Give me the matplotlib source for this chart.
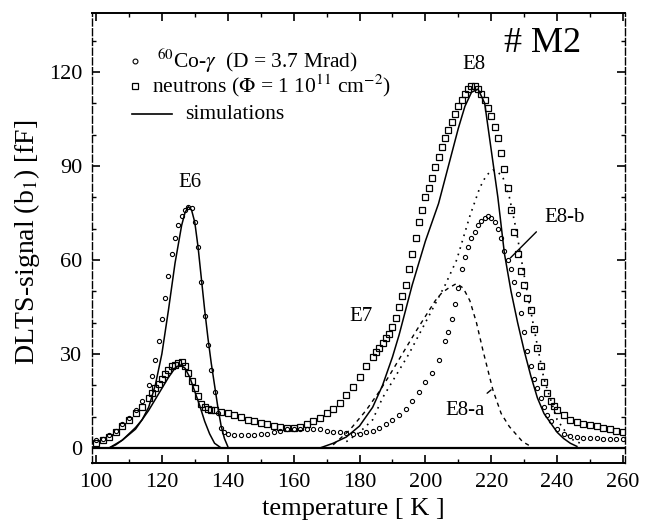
import matplotlib
matplotlib.use("Agg")
import matplotlib.pyplot as plt
from matplotlib.ticker import MultipleLocator

plt.rcParams['font.family'] = ['Liberation Serif', 'DejaVu Serif']
plt.rcParams['mathtext.fontset'] = 'stix'

# ---------------- data ----------------
# 60Co-gamma irradiated sample (circles)
co_T = [100, 102, 104, 106, 108, 110, 112, 114, 116, 117, 118, 119, 120, 121, 122, 123, 124, 125,
        126, 127, 128, 129, 130, 131, 132, 133, 134, 135, 136, 137, 138, 139, 140, 142, 144, 146,
        148, 150, 152, 154, 156, 158, 160, 162, 164, 166, 168, 170, 172, 174, 176, 178, 180, 182,
        184, 186, 188, 190, 192, 194, 196, 198, 200, 202, 204, 206, 207, 208, 209, 210, 211, 212,
        213, 214, 215, 216, 217, 218, 219, 220, 221, 222, 223, 224, 225, 226, 227, 228, 229, 230,
        231, 232, 233, 234, 235, 236, 237, 238, 240, 242, 244, 246, 248, 250, 252, 254, 256, 258, 260]
co_S = [2.5, 3, 4, 5.5, 7.5, 9.5, 12, 15, 20, 23, 28, 34, 41, 48, 55, 62, 67, 71,
        74, 76, 77, 76.5, 72, 64, 53, 42, 33, 25, 18, 11, 6.5, 5, 4.5, 4, 4, 4,
        4, 4.5, 4.5, 5, 5.5, 6, 6, 6, 6, 6, 6, 5.5, 5.2, 5, 4.8, 4.6, 4.5, 5,
        5.5, 6.5, 7.5, 9, 10.5, 12.5, 15, 18, 21, 24, 28, 34, 37, 41, 46, 51, 57, 61,
        64, 67, 69, 71, 72.5, 73.5, 74, 73.5, 72, 70, 67, 63, 60, 57, 53, 49, 43, 37,
        31, 26, 22, 19, 16, 13, 10.5, 8.5, 6, 4.5, 3.8, 3.5, 3.3, 3.2, 3.1, 3, 3, 3, 3]

# neutron irradiated sample (squares)
n_T = [100, 102, 104, 106, 108, 110, 112, 114, 116, 117, 118, 119, 120, 121, 122, 123, 124, 125,
       126, 127, 128, 129, 130, 131, 132, 133, 134, 135, 136, 138, 140, 142, 144, 146, 148, 150,
       152, 154, 156, 158, 160, 162, 164, 166, 168, 170, 172, 174, 176, 178, 180, 182, 184, 185,
       186, 187, 188, 189, 190, 191, 192, 193, 194, 195, 196, 197, 198, 199, 200, 201, 202, 203,
       204, 205, 206, 207, 208, 209, 210, 211, 212, 213, 214, 215, 216, 217, 218, 219, 220, 221,
       222, 223, 224, 225, 226, 227, 228, 229, 230, 231, 232, 233, 234, 235, 236, 237, 238, 239,
       240, 242, 244, 246, 248, 250, 252, 254, 256, 258, 260]
n_S = [1.5, 2.5, 3.5, 5, 7, 9, 11, 13, 16, 17.5, 19, 20.5, 22, 23.5, 25, 26, 26.5, 27.2,
       27.5, 26, 24, 21.5, 19, 16.5, 14, 13, 12.5, 12.2, 12, 11.5, 11, 10.5, 10, 9, 8.5, 8,
       7.5, 7, 6.7, 6.5, 6.5, 6.8, 7.5, 8.5, 9.5, 11, 12.5, 14.5, 17, 19.5, 22.5, 26, 29, 30.5,
       32, 33.5, 35, 36.5, 38.5, 41.5, 45, 48.5, 52, 57, 62, 67, 72, 76, 80, 83, 86, 89.5,
       93, 96, 99, 101.5, 104, 106.5, 109, 111, 113, 114.5, 115.5, 115.5, 114.5, 113, 111, 108.5, 106, 102.5,
       99, 94, 89, 83, 76, 69, 62, 56.5, 52, 48, 44, 38, 32, 26, 21, 17.5, 15, 13.5,
       12, 10.5, 9, 8.2, 7.6, 7.2, 6.9, 6.5, 6, 5.5, 5]

# simulations (solid lines)
sim_nE6_T = [104, 106, 108, 110, 112, 114, 116, 118, 120, 122, 124, 125.5, 127, 128.5, 130, 131.5,
             133, 134.5, 136, 138]
sim_nE6_S = [0, 1, 2.5, 4.5, 6.5, 9, 12, 15.5, 19, 22.5, 25.5, 26.5, 25.5, 22.5, 18, 13.5,
             8.5, 4.5, 1.5, 0]
sim_coE6_T = [104, 108, 112, 114, 116, 118, 120, 122, 124, 126, 127, 128, 129, 130, 131, 132,
              133, 134, 135, 136, 137, 138, 139, 140]
sim_coE6_S = [0, 2.5, 6, 9, 13, 20, 30, 44, 59, 71, 75, 77, 76, 72, 64, 54,
              44, 35, 27, 20, 13, 7, 3, 0.5]
sim_nE8_T = [168, 172, 176, 180, 184, 187, 190, 192, 194, 196, 198, 200, 202, 204, 206, 208,
             210, 212, 214, 216, 218, 220, 222, 224, 226, 228, 230, 232, 234, 236, 238, 240,
             242, 244, 246]
sim_nE8_S = [0, 1.5, 3.5, 7, 13, 20, 29, 36, 44, 52, 59, 66, 72, 78, 86, 94,
             102, 109, 113.5, 114.5, 110, 95, 80, 62, 50, 40, 31, 23, 16, 11, 8, 5,
             3, 1.5, 0.5]

# decomposition of E8
e8a_T = [172, 177, 182, 186, 189, 193, 197, 200, 203, 205, 207, 209.5, 211.5, 213.5, 215.5,
         217.5, 220.5, 223, 225.5, 229.5, 232]
e8a_S = [1, 5.7, 12, 18, 23, 30, 37, 42, 47, 49.5, 51, 52.5, 51, 47, 40,
         31, 18.5, 11, 6.8, 2, 0.5]
e8b_T = [176, 180, 184, 187, 191, 195, 199, 203, 206, 209.5, 213.5, 216.5, 218.5, 220.5, 222,
         223.5, 225.5, 227.5, 230, 233, 236, 240, 244, 248]
e8b_S = [2, 5, 9, 16, 23, 30, 38, 46, 52, 60, 74, 83, 87, 88.7, 88,
         86.5, 80, 70, 55, 38, 22, 9, 3, 1]

xticks = [100, 120, 140, 160, 180, 200, 220, 240, 260]
yticks = [0, 30, 60, 90, 120]

# ---------------- figure ----------------
fig = plt.figure(figsize=(6.55, 5.28), dpi=100)
ax = fig.add_axes([0.1405, 0.1231, 0.8137, 0.8523])

ax.axhline(0, color='black', lw=1.6, zorder=1)

ax.plot(n_T, n_S, 's', mfc='none', mec='black', ms=5, mew=0.9, zorder=3)
ax.plot(co_T, co_S, 'o', mfc='none', mec='black', ms=3, mew=0.8, zorder=3)

for T, S in [(sim_nE6_T, sim_nE6_S), (sim_coE6_T, sim_coE6_S), (sim_nE8_T, sim_nE8_S)]:
    ax.plot(T, S, '-', color='black', lw=1.1, zorder=2)

ax.plot(e8a_T, e8a_S, color='black', lw=1.0, linestyle=(0, (3, 3)), zorder=2)
ax.plot(e8b_T, e8b_S, color='black', lw=1.2, linestyle=(0, (1, 3)), zorder=2)

ax.set_xlim(98.8, 260.6)
ax.set_ylim(-4.8, 138.8)
ax.set_xticks(xticks)
ax.set_yticks(yticks)
ax.xaxis.set_minor_locator(MultipleLocator(10))
ax.yaxis.set_minor_locator(MultipleLocator(10))
ax.tick_params(which='major', direction='in', length=6, width=1.2, labelsize=16,
               top=True, right=True, pad=7)
ax.tick_params(which='minor', direction='in', length=3, width=1.0, top=True, right=True)

for side in ['top', 'bottom']:
    ax.spines[side].set_linewidth(1.4)
for side in ['left', 'right']:
    ax.spines[side].set_linewidth(1.0)
    ax.spines[side].set_linestyle((0, (5, 2)))

ax.set_xlabel('temperature [ K ]', fontsize=19)
ax.set_ylabel('DLTS-signal (b$_1$) [fF]', fontsize=20)
ax.xaxis.set_label_coords(0.49, -0.078)
ax.yaxis.set_label_coords(-0.094, 0.49)

# legend (drawn manually)
ax.plot([111.8], [123.5], 'o', mfc='none', mec='black', ms=3.5, mew=0.8)
ax.plot([111.8], [115.5], 's', mfc='none', mec='black', ms=5, mew=0.9)
ax.plot([111, 123], [106.5, 106.5], '-', color='black', lw=1.2)
ax.text(118.5, 123.5, r'$^{60}$Co-$\gamma$  (D = 3.7 Mrad)', fontsize=15.5, va='center', ha='left')
ax.text(117, 115.5, r'neutrons ($\Phi$ = 1 10$^{11}$ cm$^{-2}$)', fontsize=15.5, va='center', ha='left')
ax.text(127, 106.5, 'simulations', fontsize=15.5, va='center', ha='left')

# annotations
ax.text(235.5, 129, '# M2', fontsize=26, ha='center', va='center')
ax.text(128.5, 84.6, 'E6', fontsize=15, ha='center', va='center')
ax.text(214.6, 122.5, 'E8', fontsize=15, ha='center', va='center')
ax.text(180.6, 42, 'E7', fontsize=15, ha='center', va='center')
ax.text(242.4, 73.4, 'E8-b', fontsize=15, ha='center', va='center')
ax.text(211.9, 12, 'E8-a', fontsize=15, ha='center', va='center')
ax.annotate('', xy=(225.2, 60), xytext=(234.3, 69.6),
            arrowprops=dict(arrowstyle='-', color='black', lw=1.0))
ax.annotate('', xy=(220.6, 19.1), xytext=(218.1, 16.9),
            arrowprops=dict(arrowstyle='-', color='black', lw=1.0))

fig.savefig('out.png', dpi=100)
